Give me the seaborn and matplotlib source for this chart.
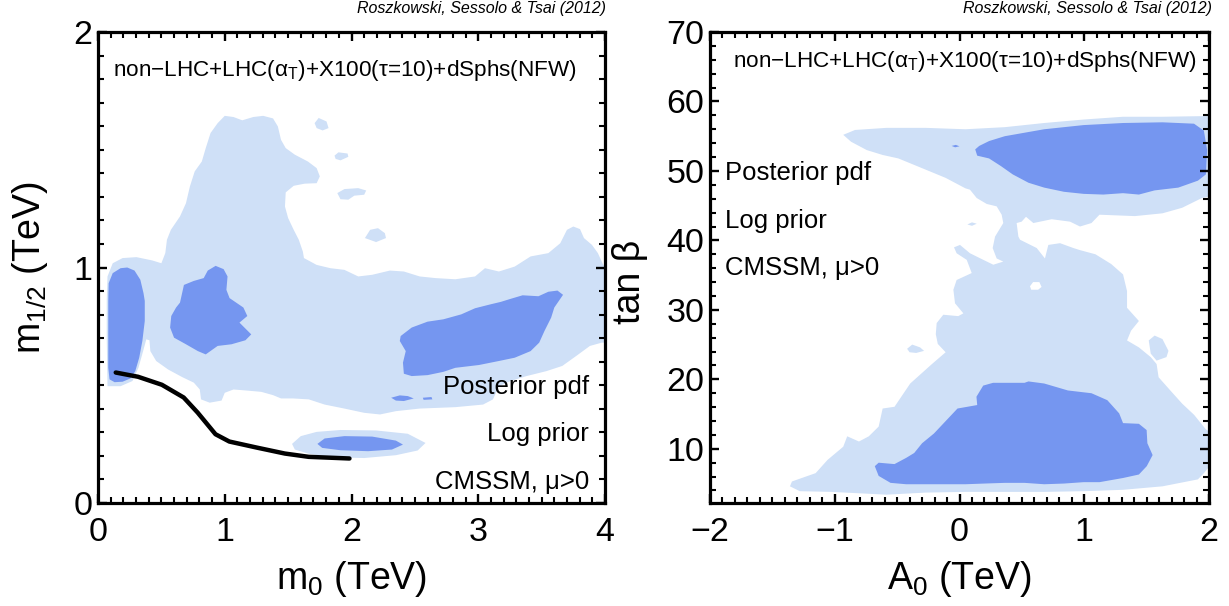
import matplotlib
matplotlib.use("Agg")
import matplotlib.pyplot as plt
import seaborn as sns
from matplotlib.ticker import MultipleLocator

# ---------------- data ----------------
# Left panel: (m0, m1/2) in TeV
# 95% (light) main region outline
l_light_main_x = [0.075, 0.069, 0.069, 0.075, 0.116, 0.194, 0.303, 0.428, 0.500, 0.531, 0.544, 0.575,
                  0.647, 0.694, 0.725, 0.763, 0.819, 0.850, 0.888, 0.944, 1.000, 1.069, 1.138, 1.225,
                  1.303, 1.381, 1.419, 1.444, 1.481, 1.553, 1.656, 1.725, 1.750, 1.725, 1.631, 1.544,
                  1.481, 1.475, 1.500, 1.544, 1.584, 1.616, 1.625, 1.725, 1.834, 1.944, 2.053, 2.163,
                  2.303, 2.413, 2.538, 2.663, 2.819, 2.975, 3.053, 3.163, 3.288, 3.413, 3.553, 3.647,
                  3.700, 3.750, 3.803, 3.834, 3.897, 3.944, 3.980, 4.000, 4.000, 3.975, 3.881, 3.772,
                  3.663, 3.538, 3.381, 3.256, 3.163, 3.116, 3.038, 2.819, 2.538, 2.350, 2.225, 2.100,
                  1.944, 1.788, 1.663, 1.538, 1.444, 1.381, 1.288, 1.163, 1.069, 1.000, 0.975, 0.881,
                  0.813, 0.803, 0.756, 0.663, 0.553, 0.459, 0.413, 0.406, 0.381, 0.356, 0.319, 0.272,
                  0.178]
l_light_main_y = [0.496, 0.700, 0.863, 0.962, 1.018, 1.040, 1.044, 1.030, 1.018, 1.061, 1.118, 1.160,
                  1.217, 1.273, 1.344, 1.408, 1.450, 1.507, 1.571, 1.613, 1.644, 1.639, 1.625, 1.639,
                  1.644, 1.633, 1.599, 1.542, 1.507, 1.479, 1.450, 1.422, 1.387, 1.358, 1.356, 1.347,
                  1.319, 1.259, 1.210, 1.160, 1.118, 1.068, 1.040, 1.011, 0.997, 0.990, 0.962, 0.969,
                  0.987, 0.983, 0.962, 0.955, 0.950, 0.962, 0.997, 0.983, 1.004, 1.047, 1.061, 1.103,
                  1.160, 1.174, 1.163, 1.125, 1.096, 1.061, 1.018, 1.000, 0.681, 0.681, 0.667, 0.624,
                  0.582, 0.560, 0.539, 0.518, 0.496, 0.440, 0.418, 0.407, 0.401, 0.390, 0.376, 0.383,
                  0.401, 0.418, 0.440, 0.444, 0.444, 0.458, 0.472, 0.478, 0.482, 0.468, 0.435, 0.426,
                  0.440, 0.482, 0.511, 0.535, 0.567, 0.603, 0.645, 0.691, 0.695, 0.645, 0.574, 0.518,
                  0.496]
# small light islands
l_isl1_x = [1.709, 1.741, 1.803, 1.819, 1.772, 1.725]
l_isl1_y = [1.613, 1.635, 1.620, 1.592, 1.582, 1.592]
l_isl2_x = [1.866, 1.897, 1.969, 1.975, 1.913, 1.875]
l_isl2_y = [1.475, 1.489, 1.484, 1.470, 1.455, 1.461]
l_isl3_x = [1.888, 1.944, 2.053, 2.116, 2.100, 2.022, 1.975, 1.913]
l_isl3_y = [1.316, 1.333, 1.337, 1.327, 1.309, 1.305, 1.288, 1.290]
l_isl4_x = [2.106, 2.147, 2.209, 2.263, 2.272, 2.194]
l_isl4_y = [1.125, 1.160, 1.167, 1.146, 1.125, 1.108]
l_low_light_x = [1.531, 1.600, 1.725, 1.913, 2.194, 2.444, 2.584, 2.522, 2.350, 2.100, 1.850, 1.663, 1.553]
l_low_light_y = [0.251, 0.284, 0.302, 0.310, 0.308, 0.294, 0.255, 0.223, 0.203, 0.191, 0.194, 0.209, 0.227]
# 68% (dark) regions
l_dark1_x = [0.084, 0.116, 0.178, 0.231, 0.288, 0.334, 0.359, 0.369, 0.369, 0.350, 0.325, 0.294,
             0.256, 0.194, 0.131, 0.091, 0.081, 0.081, 0.081]
l_dark1_y = [0.933, 0.976, 0.997, 1.000, 0.987, 0.948, 0.891, 0.858, 0.773, 0.688, 0.617, 0.560,
             0.529, 0.515, 0.513, 0.525, 0.574, 0.716, 0.858]
l_dark2_x = [0.678, 0.756, 0.834, 0.866, 0.928, 0.991, 1.022, 1.013, 1.038, 1.147, 1.178, 1.116,
             1.209, 1.163, 1.053, 0.944, 0.850, 0.788, 0.694, 0.600, 0.569, 0.578, 0.616, 0.647]
l_dark2_y = [0.926, 0.943, 0.955, 0.987, 1.007, 0.993, 0.962, 0.905, 0.870, 0.830, 0.794, 0.766,
             0.716, 0.691, 0.674, 0.667, 0.631, 0.645, 0.674, 0.702, 0.745, 0.794, 0.830, 0.851]
l_dark3_x = [3.256, 3.350, 3.475, 3.553, 3.625, 3.669, 3.600, 3.575, 3.522, 3.481, 3.413, 3.288,
             3.163, 3.006, 2.819, 2.725, 2.600, 2.475, 2.413, 2.406, 2.428, 2.381, 2.388, 2.475,
             2.600, 2.725, 2.866, 2.975, 3.100, 3.178]
l_dark3_y = [0.867, 0.882, 0.878, 0.897, 0.902, 0.884, 0.830, 0.787, 0.730, 0.681, 0.645, 0.617,
             0.603, 0.586, 0.574, 0.557, 0.543, 0.539, 0.549, 0.596, 0.645, 0.688, 0.709, 0.745,
             0.770, 0.780, 0.801, 0.827, 0.844, 0.854]
l_dark4_x = [2.313, 2.381, 2.444, 2.491, 2.413, 2.350]
l_dark4_y = [0.447, 0.457, 0.454, 0.444, 0.433, 0.435]
l_dark5_x = [2.563, 2.631, 2.638, 2.569]
l_dark5_y = [0.447, 0.450, 0.440, 0.438]
l_low_dark_x = [1.731, 1.788, 1.944, 2.163, 2.350, 2.406, 2.319, 2.131, 1.913, 1.769]
l_low_dark_y = [0.251, 0.274, 0.284, 0.282, 0.265, 0.248, 0.227, 0.220, 0.224, 0.234]
# black limit line
line_m0 = [0.140, 0.316, 0.504, 0.676, 0.786, 0.927, 1.036, 1.255, 1.474, 1.662, 1.984]
line_m12 = [0.554, 0.536, 0.502, 0.448, 0.384, 0.292, 0.261, 0.235, 0.210, 0.196, 0.189]

# Right panel: (A0 in TeV, tan beta)
r_light_main_x = [-0.932, -0.837, -0.585, -0.269, 0.047, 0.363, 0.679, 0.995, 1.311, 1.627, 1.990, 2.000,
                  2.000, 1.943, 1.785, 1.627, 1.406, 1.122, 1.058, 0.966, 0.886, 0.739, 0.592, 0.533,
                  0.498, 0.458, 0.472, 0.485, 0.619, 0.685, 0.712, 0.806, 0.913, 0.966, 1.090, 1.216,
                  1.311, 1.343, 1.343, 1.343, 1.438, 1.375, 1.343, 1.438, 1.533, 1.580, 1.596, 1.690,
                  1.785, 1.880, 1.975, 2.000, 2.000, 1.959, 1.911, 1.627, 1.311, 0.995, 0.679, 0.363,
                  0.047, -0.269, -0.585, -1.027, -1.280, -1.359, -1.343, -1.153, -1.058, -0.932, -0.900,
                  -0.806, -0.727, -0.648, -0.616, -0.521, -0.395, -0.221, -0.111, -0.174, -0.190,
                  -0.183, -0.130, -0.010, 0.031, -0.036, -0.049, -0.023, 0.098, 0.058, -0.023, -0.044,
                  0.004, 0.084, 0.191, 0.271, 0.351, 0.298, 0.266, 0.285, 0.351, 0.338, 0.298, 0.218,
                  0.138, 0.084, 0.047, -0.111, -0.300, -0.490, -0.616, -0.743, -0.869]
r_light_main_y = [55.2, 55.9, 56.2, 56.2, 56.0, 56.3, 56.9, 57.4, 57.8, 57.8, 57.9, 57.9,
                  46.3, 46.1, 44.7, 43.9, 43.5, 43.7, 42.5, 42.0, 42.7, 43.05, 42.5, 43.4,
                  42.7, 42.5, 40.55, 40.1, 38.9, 37.4, 39.35, 39.6, 38.9, 38.6, 38.0, 36.6,
                  35.1, 32.7, 31.3, 30.3, 28.4, 27.0, 25.6, 24.6, 23.2, 22.2, 20.3, 18.4,
                  16.5, 14.9, 12.8, 12.5, 7.4, 6.5, 5.6, 4.6, 4.1, 3.9, 3.8, 3.8,
                  3.8, 3.7, 3.4, 3.8, 3.9, 4.6, 5.3, 6.5, 8.4, 10.3, 11.8,
                  11.05, 11.8, 13.2, 15.8, 16.05, 19.4, 22.2, 23.9, 25.1, 26.5,
                  28.1, 29.3, 29.1, 29.5, 30.95, 32.9, 34.3, 35.3, 37.2, 38.15, 39.0,
                  39.35, 38.15, 37.2, 36.5, 36.95, 37.4, 38.9, 40.55, 42.5, 43.7, 44.9, 45.25,
                  46.1, 47.3, 47.5, 49.0, 50.4, 51.8, 52.3, 53.0, 54.2]
r_isl1_x = [1.517, 1.564, 1.627, 1.675, 1.659, 1.580, 1.533]
r_isl1_y = [25.6, 26.3, 25.8, 24.1, 23.2, 22.7, 23.7]
r_isl2_x = [-0.420, -0.379, -0.316, -0.284, -0.347, -0.400]
r_isl2_y = [24.4, 25.0, 24.6, 24.1, 23.8, 23.9]
r_isl3_x = [0.063, 0.100, 0.138, 0.100]
r_isl3_y = [42.3, 42.6, 42.4, 42.1]
r_hole_x = [0.565, 0.590, 0.640, 0.658, 0.630, 0.575]
r_hole_y = [33.4, 34.0, 34.0, 33.3, 32.9, 32.9]
r_dark_up_x = [0.126, 0.158, 0.237, 0.363, 0.521, 0.679, 0.995, 1.311, 1.627, 1.880, 1.959, 1.985,
               1.975, 1.911, 1.754, 1.564, 1.438, 1.311, 1.153, 0.995, 0.837, 0.679, 0.553, 0.427,
               0.332, 0.237, 0.142]
r_dark_up_y = [53.1, 53.6, 54.3, 55.0, 55.5, 56.0, 56.6, 56.9, 57.0, 56.8, 55.8, 53.0,
               49.5, 48.6, 47.6, 47.2, 46.6, 46.8, 46.6, 46.7, 47.0, 47.6, 48.3, 49.5,
               50.7, 51.8, 52.2]
r_dark_sliver_x = [-0.063, -0.030, 0.000, -0.035]
r_dark_sliver_y = [53.6, 53.75, 53.55, 53.4]
r_dark_low_x = [-0.679, -0.648, -0.521, -0.427, -0.363, -0.300, -0.205, -0.142, -0.016, 0.142, 0.136,
                0.190, 0.269, 0.521, 0.553, 0.679, 0.869, 1.058, 1.185, 1.280, 1.311, 1.438, 1.500,
                1.506, 1.548, 1.501, 1.438, 1.311, 1.122, 0.995, 0.837, 0.679, 0.521, 0.363, 0.200,
                0.047, -0.111, -0.269, -0.427, -0.553, -0.648]
r_dark_low_y = [7.5, 8.0, 7.8, 8.7, 9.4, 10.8, 12.2, 13.4, 15.8, 16.3, 17.5,
                19.1, 19.5, 19.5, 19.7, 19.4, 18.4, 18.0, 17.0, 15.1, 13.7, 13.6, 12.7,
                10.8, 9.1, 7.5, 6.3, 5.8, 5.2, 5.2, 5.0, 4.9, 5.1, 5.1, 5.0,
                4.9, 4.9, 4.9, 4.9, 5.1, 6.1]

left_xticks = [0, 1, 2, 3, 4]
left_yticks = [0, 1, 2]
right_xticks = [-2, -1, 0, 1, 2]
right_yticks = [10, 20, 30, 40, 50, 60, 70]

title_txt = "non\u2212LHC+LHC($\\mathrm{\u03b1}_\\mathrm{T}$)+X100(\u03c4=10)+dSphs(NFW)"
info_lines = ["Posterior pdf", "Log prior", "CMSSM, \u03bc>0"]
credit = "Roszkowski, Sessolo & Tsai (2012)"

# ---------------- styling ----------------
sns.set_theme(style="white")
rc = plt.rcParams
rc['font.family'] = ['Liberation Sans', 'DejaVu Sans']
rc['mathtext.fontset'] = 'custom'
rc['mathtext.rm'] = 'Liberation Sans'
rc['mathtext.it'] = 'Liberation Sans:italic'
rc['mathtext.bf'] = 'Liberation Sans:bold'
rc['axes.unicode_minus'] = True
rc['text.color'] = 'black'
rc['axes.labelcolor'] = 'black'
rc['xtick.color'] = 'black'
rc['ytick.color'] = 'black'

LIGHT = "#cfe0f7"
DARK = "#7596f0"

fig = plt.figure(figsize=(12.29, 6.06), dpi=100)
fig.patch.set_facecolor("white")
axL = fig.add_axes([98 / 1229, 103 / 606, 507 / 1229, 471 / 606])
axR = fig.add_axes([710 / 1229, 103 / 606, 499 / 1229, 471 / 606])


def fill(ax, xs, ys, color):
    ax.fill(xs, ys, color=color, linewidth=0, zorder=1)


# left panel regions
for xs, ys in [(l_light_main_x, l_light_main_y), (l_isl1_x, l_isl1_y), (l_isl2_x, l_isl2_y),
               (l_isl3_x, l_isl3_y), (l_isl4_x, l_isl4_y), (l_low_light_x, l_low_light_y)]:
    fill(axL, xs, ys, LIGHT)
for xs, ys in [(l_dark1_x, l_dark1_y), (l_dark2_x, l_dark2_y), (l_dark3_x, l_dark3_y),
               (l_dark4_x, l_dark4_y), (l_dark5_x, l_dark5_y), (l_low_dark_x, l_low_dark_y)]:
    fill(axL, xs, ys, DARK)
sns.lineplot(x=line_m0, y=line_m12, ax=axL, color="black", linewidth=3.2,
             sort=False, estimator=None, legend=False, zorder=3)

# right panel regions
for xs, ys in [(r_light_main_x, r_light_main_y), (r_isl1_x, r_isl1_y), (r_isl2_x, r_isl2_y),
               (r_isl3_x, r_isl3_y)]:
    fill(axR, xs, ys, LIGHT)
fill(axR, r_hole_x, r_hole_y, "white")
for xs, ys in [(r_dark_up_x, r_dark_up_y), (r_dark_sliver_x, r_dark_sliver_y),
               (r_dark_low_x, r_dark_low_y)]:
    fill(axR, xs, ys, DARK)


def style(ax, xticks, yticks, xminor, yminor, xlim, ylim):
    ax.set_facecolor("white")
    ax.grid(False)
    ax.set_xlim(*xlim)
    ax.set_ylim(*ylim)
    ax.set_xticks(xticks)
    ax.set_yticks(yticks)
    ax.xaxis.set_minor_locator(MultipleLocator(xminor))
    ax.yaxis.set_minor_locator(MultipleLocator(yminor))
    for s in ax.spines.values():
        s.set_visible(True)
        s.set_color("black")
        s.set_linewidth(2.3)
        s.set_zorder(5)
    ax.tick_params(which="both", direction="in", top=True, right=True, bottom=True, left=True,
                   color="black", labelcolor="black", labelsize=24.5)
    ax.tick_params(which="major", length=6.5, width=1.7)
    ax.tick_params(which="minor", length=4.0, width=1.5)
    ax.tick_params(axis="x", which="both", pad=10)
    ax.tick_params(axis="y", which="both", pad=4)
    ax.set_axisbelow(False)


style(axL, left_xticks, left_yticks, 0.1, 0.1, (0, 4), (0, 2))
style(axR, right_xticks, right_yticks, 0.1, 2, (-2, 2), (2.2, 70))

axL.set_xlabel(r"$\mathrm{m}_\mathrm{0}$ (TeV)", fontsize=27, color="black")
axL.set_ylabel(r"$\mathrm{m}_\mathrm{1/2}$ (TeV)", fontsize=27, color="black")
axR.set_xlabel(r"$\mathrm{A}_\mathrm{0}$ (TeV)", fontsize=27, color="black")
axR.set_ylabel("tan \u03b2", fontsize=27, color="black")
axL.xaxis.set_label_coords(0.5, -0.118)
axR.xaxis.set_label_coords(0.5, -0.118)
axL.yaxis.set_label_coords(-0.095, 0.5)
axR.yaxis.set_label_coords(-0.125, 0.47)

axL.text(0.029, 0.918, title_txt, transform=axL.transAxes, fontsize=16.2, ha="left", va="center",
         color="black", zorder=6)
axR.text(0.976, 0.937, title_txt, transform=axR.transAxes, fontsize=16.2, ha="right", va="center",
         color="black", zorder=6)

for txt, yy in zip(info_lines, [0.2457, 0.146, 0.045]):
    axL.text(0.968, yy, txt, transform=axL.transAxes, fontsize=18.5, ha="right", va="center",
             color="black", zorder=6)
for txt, yy in zip(info_lines, [0.700, 0.599, 0.498]):
    axR.text(0.031, yy, txt, transform=axR.transAxes, fontsize=18.5, ha="left", va="center",
             color="black", zorder=6)

fig.text(606 / 1229, 1 - 9 / 606, credit, ha="right", va="center", fontsize=11.5, style="italic",
         color="black")
fig.text(1212 / 1229, 1 - 9 / 606, credit, ha="right", va="center", fontsize=11.5, style="italic",
         color="black")

fig.savefig("out.png", dpi=100, facecolor="white")
